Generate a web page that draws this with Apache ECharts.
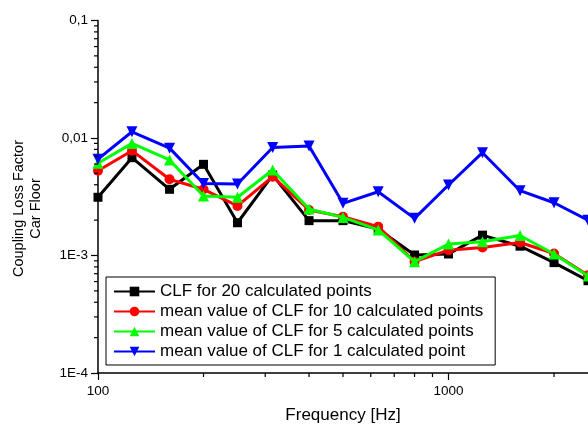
<!DOCTYPE html>
<html>
<head>
<meta charset="utf-8">
<script src="https://cdn.jsdelivr.net/npm/echarts@6/dist/echarts.min.js"></script>
<style>
html,body{margin:0;padding:0;background:#fff;}
#chart{width:588px;height:424px;}
</style>
</head>
<body>
<div id="chart"></div>
<script>
var freqs = [100,125,160,200,250,315,400,500,630,800,1000,1250,1600,2000,2500];
var clf20 = [3.13e-3,6.8e-3,3.66e-3,5.97e-3,1.90e-3,4.84e-3,1.98e-3,1.98e-3,1.68e-3,1.01e-3,1.03e-3,1.49e-3,1.20e-3,8.7e-4,6.1e-4];
var mean10 = [5.27e-3,7.8e-3,4.45e-3,3.66e-3,2.64e-3,4.69e-3,2.44e-3,2.14e-3,1.76e-3,8.86e-4,1.11e-3,1.17e-3,1.29e-3,1.04e-3,6.8e-4];
var mean5 = [6.1e-3,9.0e-3,6.5e-3,3.21e-3,3.13e-3,5.34e-3,2.49e-3,2.11e-3,1.65e-3,8.86e-4,1.25e-3,1.31e-3,1.48e-3,1.03e-3,6.7e-4];
var mean1 = [6.6e-3,1.13e-2,8.2e-3,4.1e-3,4.06e-3,8.3e-3,8.55e-3,2.78e-3,3.49e-3,2.07e-3,3.98e-3,7.5e-3,3.56e-3,2.81e-3,2.0e-3];
var seriesNames = ['CLF for 20 calculated points','mean value of CLF for 10 calculated points','mean value of CLF for 5 calculated points','mean value of CLF for 1 calculated point'];
var yTickLabels = {'-1':'0,1','-2':'0,01','-3':'1E-3','-4':'1E-4'};
var xTickLabels = {'2':'100','3':'1000'};

var xMin = 100, xMax = 2500, yMin = 1e-4, yMax = 0.1;

function powLabel(map, v){
  var e = Math.round(Math.log10(v));
  if (Math.abs(v / Math.pow(10, e) - 1) > 1e-6) return '';
  return map[String(e)] || '';
}

// minor tick positions (2..9 times each decade)
var yMinor = [], xMinor = [];
[1e-4,1e-3,1e-2].forEach(function(d){ for (var k=2;k<=9;k++) yMinor.push([xMin, d*k]); });
[100,1000].forEach(function(d){ for (var k=2;k<=9;k++){ var v=d*k; if (v<=xMax) xMinor.push([v, yMin]); } });

function pairs(arr){ return freqs.map(function(f,i){ return [f, arr[i]]; }); }

var colors = ['#000000','#ff0000','#00ff00','#0000ff'];
var symbols = ['rect','circle','triangle','triangle'];
var rotates = [0,0,0,180];
var sizes = [9,10,11,11];
var dataSets = [clf20, mean10, mean5, mean1];

var series = dataSets.map(function(d,i){
  return {
    name: seriesNames[i], type: 'line', data: pairs(d),
    symbol: symbols[i], symbolSize: sizes[i], symbolRotate: rotates[i],
    showAllSymbol: true, clip: false,
    lineStyle: {color: colors[i], width: 3},
    itemStyle: {color: colors[i]},
    z: 2 + i
  };
});

series.push({
  type: 'custom', silent: true, clip: false, z: 10,
  data: yMinor,
  renderItem: function(params, api){
    var p = api.coord([api.value(0), api.value(1)]);
    return {type:'line', shape:{x1:p[0]-4, y1:p[1], x2:p[0], y2:p[1]}, style:{stroke:'#000', lineWidth:1.2}};
  }
});
series.push({
  type: 'custom', silent: true, clip: false, z: 10,
  data: xMinor,
  renderItem: function(params, api){
    var p = api.coord([api.value(0), api.value(1)]);
    return {type:'line', shape:{x1:p[0], y1:p[1], x2:p[0], y2:p[1]+4}, style:{stroke:'#000', lineWidth:1.2}};
  }
});

var chart = echarts.init(document.getElementById('chart'), null, {renderer:'canvas'});
chart.setOption({
  animation: false,
  backgroundColor: '#ffffff',
  textStyle: {fontFamily: 'Liberation Sans, Arial, sans-serif'},
  grid: {left: 98, right: 0, top: 20.5, bottom: 51, containLabel: false, outerBoundsMode: 'none'},
  xAxis: {
    type: 'log', min: xMin, max: xMax, logBase: 10,
    name: 'Frequency [Hz]', nameLocation: 'middle', nameGap: 34,
    nameTextStyle: {fontSize: 17, color: '#000', fontFamily: 'Liberation Sans'},
    axisLine: {lineStyle: {color: '#000', width: 1.5}},
    axisTick: {show: true, length: 7, lineStyle: {color: '#000', width: 1.2}},
    axisLabel: {color: '#000', fontSize: 13.5, margin: 11, fontFamily: 'Liberation Sans', showMaxLabel: false,
      formatter: function(v){ return powLabel(xTickLabels, v); }},
    splitLine: {show: false}, minorTick: {show: false}
  },
  yAxis: {
    type: 'log', min: yMin, max: yMax, logBase: 10,
    axisLine: {show: true, lineStyle: {color: '#000', width: 1.5}},
    axisTick: {show: true, length: 7, lineStyle: {color: '#000', width: 1.2}},
    axisLabel: {color: '#000', fontSize: 13.5, margin: 10, fontFamily: 'Liberation Sans',
      formatter: function(v){ return powLabel(yTickLabels, v); }},
    splitLine: {show: false}, minorTick: {show: false}
  },
  legend: {
    data: seriesNames, orient: 'vertical', left: 106, top: 277,
    backgroundColor: '#fff', borderColor: '#000', borderWidth: 1,
    padding: [6, 12, 5, 7], itemWidth: 41, itemHeight: 12, itemGap: 3,
    textStyle: {fontSize: 17, color: '#000', fontFamily: 'Liberation Sans'},
    selectedMode: false
  },
  graphic: [{
    type: 'text', left: 10, top: 140, rotation: Math.PI/2,
    style: {text: 'Coupling Loss Factor\nCar Floor', fill: '#000', font: '14.5px Liberation Sans', textAlign: 'center', lineHeight: 17}
  }],
  series: series
});
</script>
</body>
</html>
